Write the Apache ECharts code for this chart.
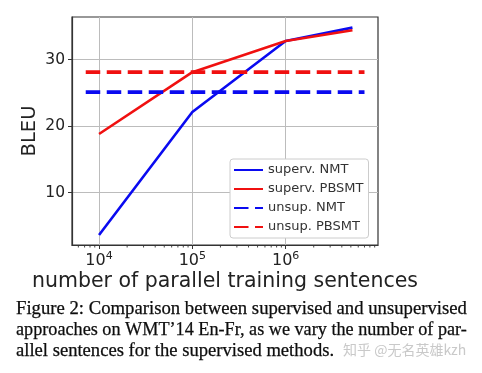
<!DOCTYPE html>
<html><head><meta charset="utf-8">
<script src="https://cdn.jsdelivr.net/npm/echarts@6/dist/echarts.min.js"></script>
<style>html,body{margin:0;padding:0;background:#fff}#c{width:482px;height:373px}</style>
</head><body><div id="c"></div>
<script>
// ---- data ----
const sentences = [1e4, 1e5, 1e6, 5.2e6];
const supervNMT = [3.6, 22.1, 32.8, 34.8];
const supervPBSMT = [18.8, 28.1, 32.8, 34.4];
const unsupRange = [7.2e3, 7.0e6];
const unsupNMT = [25.1, 25.1];
const unsupPBSMT = [28.1, 28.1];
const yTicks = [10, 20, 30];
const xMajorTicks = [1e4, 1e5, 1e6];
const xMinorTicks = [6e3,7e3,8e3,9e3,2e4,3e4,4e4,5e4,6e4,7e4,8e4,9e4,2e5,3e5,4e5,5e5,6e5,7e5,8e5,9e5,2e6,3e6,4e6,5e6,6e6,7e6,8e6,9e6];
const seriesNames = ['superv. NMT', 'superv. PBSMT', 'unsup. NMT', 'unsup. PBSMT'];
const captionLines = [
  'Figure 2: Comparison between supervised and unsupervised',
  'approaches on WMT\u201914 En-Fr, as we vary the number of par-',
  'allel sentences for the supervised methods.'
];
const watermark = '\u77e5\u4e4e @\u65e0\u540d\u82f1\u96c4kzh';

const BLUE = '#0a0af0', RED = '#f01010';
const FONT = 'DejaVu Sans';
const SERIF = '18.6px "Liberation Serif", "Times New Roman", serif';
const xMin = 5.13e3, xMax = 9.77e6, yMin = 2.1, yMax = 36.4;

function pairs(xs, ys){ return xs.map((x,i)=>[x, ys[i]]); }

const chart = echarts.init(document.getElementById('c'), null, {renderer:'canvas'});
chart.setOption({
  backgroundColor: '#fff',
  animation: false,
  grid: {left: 72, right: 104, top: 17, bottom: 128, show: true, borderColor: '#333', borderWidth: 1.2, backgroundColor: 'transparent'},
  xAxis: {
    type: 'log', logBase: 10, min: xMin, max: xMax,
    name: 'number of parallel training sentences', nameLocation: 'middle', nameGap: 26, nameMoveOverlap: false,
    nameTextStyle: {fontFamily: FONT, fontSize: 20.5, color: '#222'},
    axisLine: {show: true, onZero: false, lineStyle: {color: '#333', width: 1.2}},
    axisTick: {show: true, length: 4, lineStyle: {color: '#333'}, customValues: xMajorTicks},
    axisLabel: {
      customValues: xMajorTicks,
      margin: 6,
      formatter: function(v){ const e = Math.round(Math.log10(v)); return '{b|10}{s|' + e + '}'; },
      rich: {b: {fontFamily: FONT, fontSize: 16, color: '#222'}, s: {fontFamily: FONT, fontSize: 11, color: '#222', padding: [0,0,9,0]}}
    },
    splitLine: {show: true, lineStyle: {color: '#bcbcbc', width: 1}}
  },
  yAxis: {
    type: 'value', min: yMin, max: yMax,
    name: 'BLEU', nameLocation: 'middle', nameGap: 32, nameMoveOverlap: false,
    nameTextStyle: {fontFamily: FONT, fontSize: 19.5, color: '#222'},
    axisLine: {show: true, onZero: false, lineStyle: {color: '#333', width: 1.2}},
    axisTick: {show: true, length: 4, lineStyle: {color: '#333'}, customValues: yTicks},
    axisLabel: {customValues: yTicks, fontFamily: FONT, fontSize: 15.5, color: '#222', margin: 7},
    splitLine: {show: true, lineStyle: {color: '#bcbcbc', width: 1}}
  },
  legend: {
    orient: 'vertical', left: 230, top: 159,
    data: seriesNames,
    itemWidth: 29, itemHeight: 10, itemGap: 5,
    itemStyle: {opacity: 0},
    backgroundColor: '#fff', borderColor: '#ccc', borderWidth: 1, borderRadius: 3,
    padding: [4, 5, 4, 3],
    textStyle: {fontFamily: FONT, fontSize: 13, color: '#333', lineHeight: 14}
  },
  series: [
    {name: seriesNames[0], type: 'line', data: pairs(sentences, supervNMT), symbol: 'none', lineStyle: {color: BLUE, width: 2.6}, itemStyle: {color: BLUE}, z: 3},
    {name: seriesNames[1], type: 'line', data: pairs(sentences, supervPBSMT), symbol: 'none', lineStyle: {color: RED, width: 2.6}, itemStyle: {color: RED}, z: 4},
    {name: seriesNames[2], type: 'line', data: pairs(unsupRange, unsupNMT), symbol: 'none', lineStyle: {color: BLUE, width: 3.8, type: [14.5, 6.5]}, itemStyle: {color: BLUE}, z: 5},
    {name: seriesNames[3], type: 'line', data: pairs(unsupRange, unsupPBSMT), symbol: 'none', lineStyle: {color: RED, width: 3.8, type: [14.5, 6.5]}, itemStyle: {color: RED}, z: 6},
    {
      type: 'custom', data: xMinorTicks.map(v => [v, yMin]), clip: false, silent: true,
      renderItem: function(params, api){
        const p = api.coord([api.value(0), api.value(1)]);
        return {type: 'line', shape: {x1: p[0], y1: p[1], x2: p[0], y2: p[1] + 2.5}, style: {stroke: '#333', lineWidth: 0.9}};
      }
    }
  ],
  graphic: [
    {type: 'text', x: 16, y: 300, scaleX: 1.006, style: {text: captionLines[0], font: SERIF, fill: '#0d0d0d', stroke: '#0d0d0d', lineWidth: 0.25}},
    {type: 'text', x: 16, y: 321, scaleX: 0.978, style: {text: captionLines[1], font: SERIF, fill: '#0d0d0d', stroke: '#0d0d0d', lineWidth: 0.25}},
    {type: 'text', x: 16, y: 342, style: {text: captionLines[2], font: SERIF, fill: '#0d0d0d', stroke: '#0d0d0d', lineWidth: 0.25}},
    {type: 'text', x: 343, y: 343, style: {text: watermark, font: '14px "Noto Sans CJK SC", sans-serif', fill: '#c9c9c9'}}
  ]
});
</script></body></html>
